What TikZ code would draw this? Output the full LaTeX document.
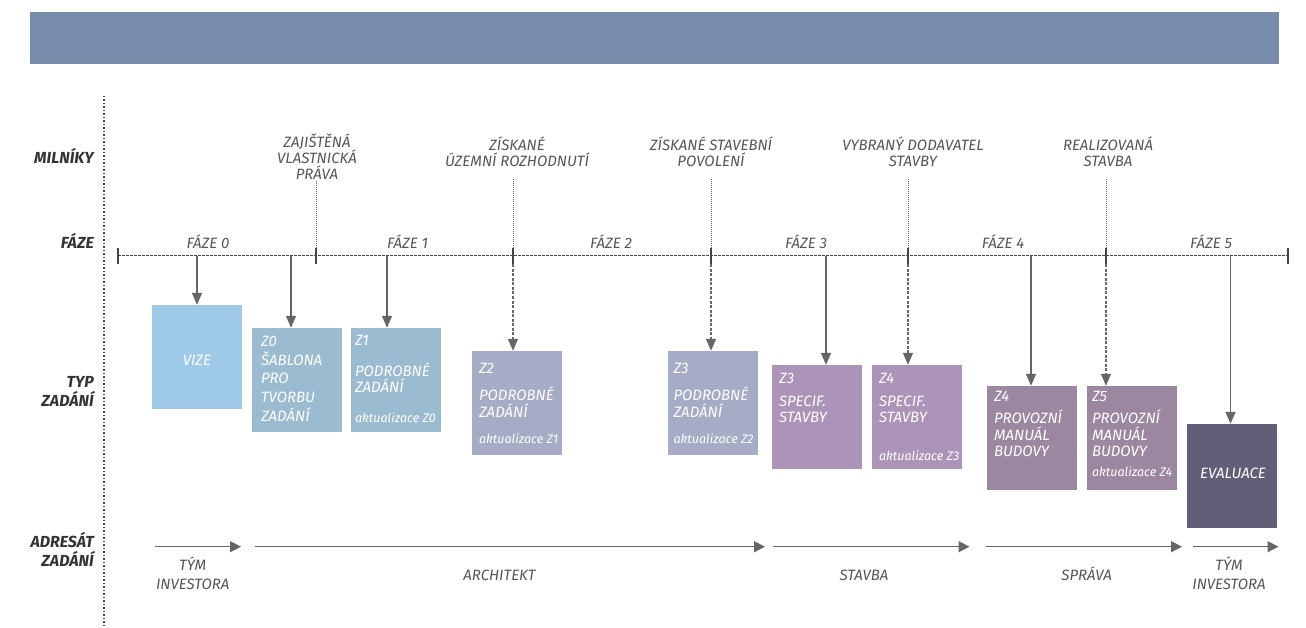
\documentclass[tikz,border=0pt]{standalone}
\usepackage{fontspec}
\setmainfont{Fira Sans}
\usetikzlibrary{arrows.meta,calc}
\definecolor{banner}{HTML}{778BAB}
\definecolor{cvize}{HTML}{9ECAE7}
\definecolor{cza}{HTML}{9BBBD0}
\definecolor{czb}{HTML}{A6ABC6}
\definecolor{czc}{HTML}{AC93B8}
\definecolor{czd}{HTML}{9C87A0}
\definecolor{cev}{HTML}{615E77}
\definecolor{arrc}{HTML}{666666}
\definecolor{txtc}{HTML}{555555}
\definecolor{labc}{HTML}{333333}
\definecolor{linec}{HTML}{444444}
\begin{document}
\begin{tikzpicture}[x=1pt,y=-1pt,
  lbl/.style={font=\fontsize{16}{19.5}\selectfont\bfseries\itshape, text=labc, inner sep=0pt, align=right, anchor=base east},
  ms/.style={font=\fontsize{15}{15.7}\selectfont\itshape, text=txtc, inner sep=0pt, align=center, anchor=base},
  fz/.style={font=\fontsize{15}{18}\selectfont\itshape, text=txtc, inner sep=0pt, anchor=base},
  bot/.style={font=\fontsize{15}{18.3}\selectfont\itshape, text=txtc, inner sep=0pt, align=center, anchor=base},
  zbox/.style={minimum width=90pt, minimum height=104pt, inner sep=0pt, draw=none},
  bt/.style={font=\fontsize{15}{16.3}\selectfont\itshape, text=white, inner sep=0pt, anchor=base west, align=left},
  ak/.style={font=\fontsize{12.5}{14}\selectfont\itshape, text=white, inner sep=0pt, anchor=base west},
  arr/.style={draw=arrc, line width=1.5pt, -{Triangle[length=12pt,width=10pt]}},
  darr/.style={draw=arrc, line width=1.3pt, dash pattern=on 3pt off 1.5pt, -{Triangle[length=12pt,width=10pt]}},
  mline/.style={draw=arrc, line width=1pt, dash pattern=on 1pt off 1pt},
  phase/.style={draw=linec, line width=1pt, dash pattern=on 2.5pt off 1.5pt},
  vline/.style={draw=linec, line width=1.5pt, dash pattern=on 1.5pt off 2pt},
  tick/.style={draw=linec, line width=1.3pt},
  barr/.style={draw=arrc, line width=1.5pt, -{Triangle[length=11pt,width=11pt]}}
]
\useasboundingbox (0,0) rectangle (1306,628);

% banner
\fill[banner] (30,12) rectangle (1279,64.3);

% vertical dotted separator
\coordinate (vt) at (104,96);
\coordinate (vb) at (104,628);
\draw[vline] (vt) -- (vb);

% left labels (multi-line nodes: base = last line)
\node[lbl] (lmil) at (94,164) {MILNÍKY};
\node[lbl] (lfaz) at (94,248.3) {FÁZE};
\node[lbl] (ltyp) at (94,406.7) {TYP\\ZADÁNÍ};
\node[lbl] (ladr) at (94,566.7) {ADRESÁT\\ZADÁNÍ};

% phase line
\coordinate (pl) at (118,256);
\coordinate (pr) at (1288,256);
\draw[phase] (pl) -- (pr);
\draw[tick] ($(pl)+(0,-8)$) -- ($(pl)+(0,8.5)$);
\draw[tick] ($(pr)+(0,-8)$) -- ($(pr)+(0,8.5)$);

% phase labels
\node[fz] (f0) at (208,248.3) {FÁZE 0};
\node[fz] (f1) at (407.5,248.3) {FÁZE 1};
\node[fz] (f2) at (611,248.3) {FÁZE 2};
\node[fz] (f3) at (806,248.3) {FÁZE 3};
\node[fz] (f4) at (1003,248.3) {FÁZE 4};
\node[fz] (f5) at (1211,248.3) {FÁZE 5};

% milestone labels
\node[ms] (ms1) at (317,179.3) {ZAJIŠTĚNÁ\\VLASTNICKÁ\\PRÁVA};
\node[ms] (ms2) at (517,166.7) {ZÍSKANÉ\\ÚZEMNÍ ROZHODNUTÍ};
\node[ms] (ms3) at (711,166.7) {ZÍSKANÉ STAVEBNÍ\\POVOLENÍ};
\node[ms] (ms4) at (913,166.7) {VYBRANÝ DODAVATEL\\STAVBY};
\node[ms] (ms5) at (1108,166.7) {REALIZOVANÁ\\STAVBA};

% milestone coordinates
\coordinate (mt1) at (316,181); \coordinate (m1) at (316,256);
\coordinate (mt2) at (513,179.3); \coordinate (m2) at (513,256);
\coordinate (mt3) at (711,179.3); \coordinate (m3) at (711,256);
\coordinate (mt4) at (908,179.3); \coordinate (m4) at (908,256);
\coordinate (mt5) at (1106,179.3); \coordinate (m5) at (1106,256);

% boxes
\node[zbox, fill=cvize] (vize) at (197,357) {};
\node[zbox, fill=cza] (z0) at (297,380) {};
\node[zbox, fill=cza] (z1) at (396,380) {};
\node[zbox, fill=czb] (z2) at (517,403) {};
\node[zbox, fill=czb] (z3p) at (713,403) {};
\node[zbox, fill=czc] (z3s) at (817,417) {};
\node[zbox, fill=czc] (z4s) at (917,417) {};
\node[zbox, fill=czd] (z4p) at (1032,438) {};
\node[zbox, fill=czd] (z5) at (1132,438) {};
\node[zbox, fill=cev] (ev) at (1232,476) {};

% box texts (multi-line nodes placed by their last baseline)
\node[bt, anchor=base] (tvize) at ($(vize.center)+(0,8)$) {VIZE};
\node[bt, font=\fontsize{15}{18.7}\selectfont\itshape] (tz0) at ($(z0.north west)+(9,93.5)$) {Z0\\ŠABLONA\\PRO\\TVORBU\\ZADÁNÍ};

\node[bt] (tz1a) at ($(z1.north west)+(4,18)$) {Z1};
\node[bt] (tz1b) at ($(z1.north west)+(4,64.7)$) {PODROBNÉ\\ZADÁNÍ};
\node[ak] (tz1c) at ($(z1.north west)+(4,94.7)$) {aktualizace Z0};

\node[bt] (tz2a) at ($(z2.north west)+(7,22.3)$) {Z2};
\node[bt] (tz2b) at ($(z2.north west)+(7,66.3)$) {PODROBNÉ\\ZADÁNÍ};
\node[ak] (tz2c) at ($(z2.north west)+(7,93)$) {aktualizace Z1};

\node[bt] (tz3a) at ($(z3p.north west)+(5.5,22.3)$) {Z3};
\node[bt] (tz3b) at ($(z3p.north west)+(5.5,66.3)$) {PODROBNÉ\\ZADÁNÍ};
\node[ak] (tz3c) at ($(z3p.north west)+(5.5,93)$) {aktualizace Z2};

\node[bt] (ts3a) at ($(z3s.north west)+(7,19)$) {Z3};
\node[bt] (ts3b) at ($(z3s.north west)+(7,57.7)$) {SPECIF.\\STAVBY};

\node[bt] (ts4a) at ($(z4s.north west)+(7,19)$) {Z4};
\node[bt] (ts4b) at ($(z4s.north west)+(7,57.7)$) {SPECIF.\\STAVBY};
\node[ak] (ts4c) at ($(z4s.north west)+(7,95.7)$) {aktualizace Z3};

\node[bt] (tp4a) at ($(z4p.north west)+(7,16)$) {Z4};
\node[bt] (tp4b) at ($(z4p.north west)+(7,70.7)$) {PROVOZNÍ\\MANUÁL\\BUDOVY};

\node[bt] (tp5a) at ($(z5.north west)+(5,16)$) {Z5};
\node[bt] (tp5b) at ($(z5.north west)+(5,70.7)$) {PROVOZNÍ\\MANUÁL\\BUDOVY};
\node[ak] (tp5c) at ($(z5.north west)+(5,90.7)$) {aktualizace Z4};

\node[bt, anchor=base] (tev) at ($(ev.center)+(1,2.7)$) {EVALUACE};

% milestone lines and ticks
\foreach \i in {1,...,5}{
  \draw[mline] (mt\i) -- (m\i);
  \draw[tick] ($(m\i)+(0,-8)$) -- ($(m\i)+(0,8.5)$);
}

% solid arrows from phase line
\coordinate (a0) at (197,256);
\coordinate (a1) at (291,256);
\coordinate (a2) at (387,256);
\coordinate (a3) at (826,256);
\coordinate (a4) at (1031,256);
\coordinate (a5) at (1230.5,256);
\draw[arr] (a0) -- (a0 |- vize.north);
\draw[arr] (a1) -- (a1 |- z0.north);
\draw[arr] (a2) -- (a2 |- z1.north);
\draw[arr] (a3) -- (a3 |- z3s.north);
\draw[arr] (a4) -- (a4 |- z4p.north);
\draw[arr] (a5) -- (a5 |- ev.north);

% dashed arrows from milestones
\draw[darr] ($(m2)+(0,8.5)$) -- (m2 |- z2.north);
\draw[darr] ($(m3)+(0,8.5)$) -- (m3 |- z3p.north);
\draw[darr] ($(m4)+(0,8.5)$) -- (m4 |- z4s.north);
\draw[darr] ($(m5)+(0,8.5)$) -- (m5 |- z5.north);

% bottom addressee arrows
\coordinate (b1s) at (155,546.7); \coordinate (b1e) at (241,546.7);
\coordinate (b2s) at (255,546.7); \coordinate (b2e) at (765,546.7);
\coordinate (b3s) at (773,546.7); \coordinate (b3e) at (969.5,546.7);
\coordinate (b4s) at (986,546.7); \coordinate (b4e) at (1182,546.7);
\coordinate (b5s) at (1193.3,546.7); \coordinate (b5e) at (1278.5,546.7);
\draw[barr] (b1s) -- (b1e);
\draw[barr] (b2s) -- (b2e);
\draw[barr] (b3s) -- (b3e);
\draw[barr] (b4s) -- (b4e);
\draw[barr] (b5s) -- (b5e);

\node[bot] (ad1) at (192.7,589) {TÝM\\INVESTORA};
\node[bot] (ad2) at (499.5,580) {ARCHITEKT};
\node[bot] (ad3) at (864,580) {STAVBA};
\node[bot] (ad4) at (1086.7,580) {SPRÁVA};
\node[bot] (ad5) at (1229,589) {TÝM\\INVESTORA};
\end{tikzpicture}
\end{document}
